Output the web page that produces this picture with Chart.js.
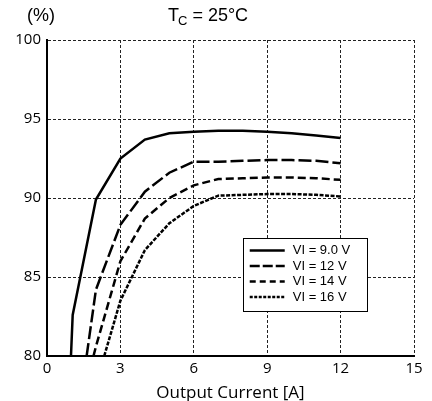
<!DOCTYPE html>
<html>
<head>
<meta charset="utf-8">
<script src="https://cdn.jsdelivr.net/npm/chart.js@4/dist/chart.umd.min.js"></script>
<style>
html,body{margin:0;padding:0;background:#fff;}
#wrap{width:432px;height:401px;position:relative;}
</style>
</head>
<body>
<div id="wrap"><canvas id="c" width="432" height="401"></canvas></div>
<script>
// ---- data ----
const current9  = [0.98, 1.05, 2, 3, 4, 5, 6, 7, 8, 9, 10, 11, 12];
const eff9      = [80, 82.6, 89.9, 92.5, 93.7, 94.1, 94.2, 94.25, 94.25, 94.2, 94.1, 93.95, 93.8];
const current12 = [1.62, 2, 3, 4, 5, 6, 7, 8, 9, 10, 11, 12];
const eff12     = [80, 84.2, 88.3, 90.4, 91.6, 92.3, 92.3, 92.35, 92.4, 92.4, 92.35, 92.2];
const current14 = [1.9, 2, 3, 4, 5, 6, 7, 8, 9, 10, 11, 12];
const eff14     = [80, 80.6, 86.0, 88.7, 90.0, 90.8, 91.2, 91.25, 91.3, 91.3, 91.25, 91.15];
const current16 = [2.34, 3, 4, 5, 6, 7, 8, 9, 10, 11, 12];
const eff16     = [80, 83.5, 86.7, 88.4, 89.5, 90.15, 90.2, 90.25, 90.25, 90.2, 90.1];
const seriesLabels = ['VI = 9.0 V', 'VI = 12 V', 'VI = 14 V', 'VI = 16 V'];
const xTicks = [0, 3, 6, 9, 12, 15];
const yTicks = [80, 85, 90, 95, 100];

const dashes = [[], [13, 4], [8, 4], [4, 1.5]];
const legendDashes = [[], [10, 3], [6, 4], [3, 1.5]];

function pts(xs, ys){ return xs.map((x,i)=>({x:x, y:ys[i]})); }
const allX = [current9, current12, current14, current16];
const allY = [eff9, eff12, eff14, eff16];

const datasets = seriesLabels.map((lab,i)=>({
  label: lab,
  data: pts(allX[i], allY[i]),
  borderColor: '#000',
  borderWidth: 2.5,
  borderDash: dashes[i],
  pointRadius: 0,
  fill: false,
  tension: 0,
  legendDash: legendDashes[i]
}));

const tickFont = {family: "'Open Sans', sans-serif", size: 15};

const overlay = {
  id: 'overlay',
  afterDraw(chart){
    const ctx = chart.ctx;
    const xs = chart.scales.x, ys = chart.scales.y;
    ctx.save();
    // top texts
    ctx.fillStyle = '#000';
    ctx.textBaseline = 'alphabetic';
    ctx.font = "18px 'Liberation Sans', Arial, sans-serif";
    ctx.textAlign = 'left';
    ctx.fillText('(%)', 27, 21);
    let x0 = 168;
    ctx.fillText('T', x0, 21);
    let w = ctx.measureText('T').width;
    ctx.font = "13px 'Liberation Sans', Arial, sans-serif";
    ctx.fillText('C', x0 + w - 1, 25);
    let w2 = ctx.measureText('C').width;
    ctx.font = "18px 'Liberation Sans', Arial, sans-serif";
    ctx.fillText(' = 25°C', x0 + w - 1 + w2, 21);

    // legend box
    const bx = xs.getPixelForValue(8.0), bx2 = xs.getPixelForValue(13.08);
    const by = ys.getPixelForValue(87.47), by2 = ys.getPixelForValue(82.85);
    ctx.fillStyle = '#fff';
    ctx.fillRect(bx, by, bx2 - bx, by2 - by);
    ctx.strokeStyle = '#000';
    ctx.lineWidth = 1;
    ctx.setLineDash([]);
    ctx.strokeRect(Math.round(bx)+0.5, Math.round(by)+0.5, Math.round(bx2-bx), Math.round(by2-by));
    ctx.font = "13px 'Liberation Sans', Arial, sans-serif";
    ctx.textBaseline = 'middle';
    ctx.fillStyle = '#000';
    chart.data.datasets.forEach((ds, i) => {
      const yy = by + 12.5 + i * 15.5;
      ctx.beginPath();
      ctx.lineWidth = 2.5;
      ctx.setLineDash(ds.legendDash);
      ctx.moveTo(bx + 7, yy);
      ctx.lineTo(bx + 42, yy);
      ctx.stroke();
      ctx.setLineDash([]);
      ctx.fillText(ds.label, bx + 50, yy);
    });
    ctx.restore();
  }
};

new Chart(document.getElementById('c'), {
  type: 'line',
  data: {datasets},
  plugins: [overlay],
  options: {
    responsive: false,
    animation: false,
    events: [],
    layout: {padding: {top: 40, right: 18, left: 0, bottom: 0}},
    plugins: {legend: {display: false}, tooltip: {enabled: false}, title: {display: false}},
    scales: {
      x: {
        type: 'linear', min: 0, max: 15,
        afterBuildTicks(s){ s.ticks = xTicks.map(v=>({value:v})); },
        afterFit(s){ s.height = 45; },
        ticks: {color: '#000', font: tickFont, padding: 4, maxRotation: 0, autoSkip: false},
        grid: {color: '#222', lineWidth: 1, drawTicks: false},
        border: {display: true, color: '#000', width: 2, dash: [3, 2]},
        title: {display: true, text: 'Output Current [A]', color: '#000',
                font: {family: "'Open Sans', sans-serif", size: 17}, padding: {top: 0, bottom: -2}}
      },
      y: {
        type: 'linear', min: 80, max: 100,
        afterBuildTicks(s){ s.ticks = yTicks.map(v=>({value:v})); },
        afterFit(s){ s.width = 47; },
        ticks: {color: '#000', font: tickFont, padding: 6},
        grid: {color: '#222', lineWidth: 1, drawTicks: false},
        border: {display: true, color: '#000', width: 2, dash: [3, 2]}
      }
    }
  }
});
</script>
</body>
</html>
